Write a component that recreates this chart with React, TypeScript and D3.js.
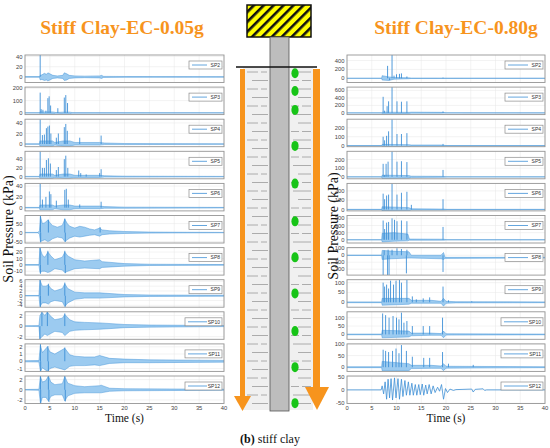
import * as d3 from 'd3';

type Env = [number, number, number][];
type Pt = [number, number][];

const spNames = ['SP2', 'SP3', 'SP4', 'SP5', 'SP6', 'SP7', 'SP8', 'SP9', 'SP10', 'SP11', 'SP12'];
const timeTicks = [0, 5, 10, 15, 20, 25, 30, 35, 40];

// ---- EC-0.05g ----
const lowDomains: [number, number][] = [
  [-11, 43], [-14, 210], [-5, 47], [-5, 58], [-6, 45], [-58, 95],
  [-16, 27], [-4.8, 6.7], [-2.5, 2.7], [-1.4, 2.4], [-2.7, 2.7],
];
const lowTicks = [
  [0, 20, 40], [0, 100, 200], [0, 20, 40], [0, 20, 40], [0, 20, 40], [-50, 0, 50],
  [-10, 0, 10, 20], [-4, -2, 0, 2, 4, 6], [-2, 0, 2], [-1, 0, 1, 2], [-2, 0, 2],
];

const lowSP2Env: Env = [[0, 0.6, -0.6], [2.9, 0.6, -0.6], [3.05, 3, -6], [3.4, 4, -5], [3.9, 7, -7], [4.3, 5, -6], [4.6, 8, -8], [5.0, 6, -6], [5.6, 3, -3], [6.5, 2, -2], [7.6, 3, -3], [7.9, 8, -7], [8.4, 6, -6], [8.9, 3, -3], [10, 2, -2], [12, 1.5, -1.5], [15, 2, -2], [15.4, 3, -3], [15.8, 1, -1], [20, 0.8, -0.8], [40, 0.5, -0.5]];
const lowSP2Spikes: Pt = [[3.05, 45]];

const lowSP3Env: Env = [[0, 1, -1], [2.9, 1, -1], [3.0, 8, -8], [5.6, 8, -8], [6.2, 3, -3], [7.7, 6, -6], [9, 6, -6], [9.6, 2, -2], [40, 1, -1]];
const lowSP3Spikes: Pt = [[3.05, 165], [3.25, 30], [3.6, 25], [4.2, 18], [4.6, 120], [4.85, 135], [5.15, 60], [6.6, 38], [7.9, 125], [8.2, 145], [8.55, 80]];

const lowSP4Env: Env = [[0, 0.5, -0.5], [2.9, 0.5, -0.5], [3.0, 6, -4], [5.5, 6, -4], [6, 3, -2], [7.7, 6, -4], [9, 6, -4], [10, 3, -2], [15, 3, -2], [16, 2, -1], [20, 1, -1], [40, 0.5, -0.5]];
const lowSP4Spikes: Pt = [[3.05, 47], [3.5, 17], [3.9, 18], [4.3, 30], [4.6, 33], [4.9, 35], [5.2, 20], [6.3, 12], [6.7, 20], [7.9, 32], [8.2, 38], [8.5, 25], [11.0, 12], [15.3, 16]];

const lowSP5Env: Env = [[0, 0.5, -0.5], [2.9, 0.5, -0.5], [3.0, 6, -4], [5.5, 6, -4], [6, 3, -2], [7.7, 6, -4], [9, 6, -4], [10, 3, -2], [15, 3, -2], [16, 2, -1], [20, 1, -1], [40, 0.5, -0.5]];
const lowSP5Spikes: Pt = [[3.05, 58], [3.5, 20], [3.9, 20], [4.3, 38], [4.7, 42], [5.1, 30], [6.3, 15], [6.7, 22], [7.9, 40], [8.2, 48], [8.6, 20], [10.8, 14], [11.2, 8], [12.3, 5], [15.0, 8], [15.3, 17]];

const lowSP6Env: Env = [[0, 0.5, -0.5], [2.9, 0.5, -0.5], [3.0, 5, -4], [5.5, 5, -4], [6, 3, -2], [7.7, 5, -4], [9, 5, -4], [10, 3, -2], [15, 3, -2], [16, 2, -1], [20, 1, -1], [40, 0.5, -0.5]];
const lowSP6Spikes: Pt = [[3.05, 45], [3.5, 15], [4.2, 20], [4.9, 30], [5.2, 25], [6.3, 13], [8.0, 33], [8.3, 35], [8.7, 15], [11.0, 6], [15.3, 11]];

const lowSP7Env: Env = [[0, 1, -1], [2.6, 1, -1], [2.9, 10, -10], [3.1, 90, -50], [3.5, 50, -45], [4.0, 55, -40], [4.6, 70, -50], [5.0, 55, -45], [5.5, 40, -35], [6.5, 30, -25], [7.5, 40, -30], [8.0, 75, -50], [8.5, 50, -40], [9.0, 35, -30], [10, 25, -20], [11, 35, -25], [12, 30, -20], [13, 20, -15], [14, 15, -12], [15, 25, -20], [15.5, 15, -12], [17, 10, -8], [20, 6, -5], [25, 3, -3], [30, 2, -2], [40, 1, -1]];
const lowSP8Env: Env = [[0, 0.5, -0.5], [2.8, 0.5, -0.5], [3.0, 26, -12], [3.5, 15, -10], [4.0, 12, -10], [4.6, 20, -12], [5.2, 14, -10], [6, 8, -6], [7.5, 12, -8], [8.0, 20, -12], [8.6, 14, -10], [10, 8, -6], [12, 6, -5], [15, 8, -6], [15.5, 5, -4], [20, 2, -2], [25, 1, -1], [40, 0.5, -0.5]];
const lowSP9Env: Env = [[0, 0.1, -0.1], [2.8, 0.1, -0.1], [3.0, 6.5, -4.5], [3.5, 4, -3], [4.2, 4, -3], [4.7, 4.5, -3.5], [5.2, 3, -2.5], [6, 2, -2], [7.5, 3, -2.5], [8.0, 5, -4.5], [8.6, 3, -3], [10, 1.5, -1.5], [12, 1.2, -1], [15, 1.2, -1], [20, 0.5, -0.5], [25, 0.3, -0.3], [40, 0.2, -0.2]];
const lowSP10Env: Env = [[0, 0.05, -0.05], [2.8, 0.1, -0.1], [3.0, 2.0, -2.4], [3.4, 2.6, -2.0], [4.0, 2, -1.5], [4.5, 2.7, -1.8], [5.0, 2, -1.5], [6, 1.2, -1], [7.5, 1.5, -1.2], [8.0, 2.2, -1.8], [9, 1.2, -1], [10, 0.8, -0.8], [12, 0.7, -0.7], [15, 0.6, -0.6], [20, 0.3, -0.3], [25, 0.2, -0.2], [40, 0.1, -0.1]];
const lowSP11Env: Env = [[0, 0.08, -0.08], [2.8, 0.1, -0.1], [3.1, 2.2, -1.4], [3.5, 1.2, -0.9], [4.5, 2.0, -1.4], [5.0, 1.3, -1.0], [6, 1, -0.8], [8.0, 1.8, -1.2], [9, 0.9, -0.7], [10, 0.7, -0.6], [12, 0.6, -0.6], [14, 0.6, -0.5], [15, 0.8, -0.6], [17, 0.4, -0.3], [20, 0.3, -0.2], [25, 0.2, -0.2], [40, 0.12, -0.12]];
const lowSP12Env: Env = [[0, 0.05, -0.05], [2.8, 0.1, -0.1], [3.1, 2.6, -2.7], [3.5, 1.5, -1.5], [4.2, 1.8, -1.5], [4.7, 2.7, -2.2], [5.2, 1.5, -1.3], [6, 1, -1], [7.5, 1.2, -1], [8.0, 2.6, -2.2], [8.6, 1.3, -1.2], [10, 0.8, -0.7], [12, 0.6, -0.6], [15, 0.8, -0.6], [15.3, 0.9, -0.6], [17, 0.3, -0.3], [20, 0.2, -0.2], [40, 0.1, -0.1]];

// strongest single excursions inside the dense records
const lowSP7Spikes: Pt = [[3.1, 95], [3.15, -55], [4.7, 72], [8.0, 78], [8.1, -52], [15.1, 30]];
const lowSP8Spikes: Pt = [[3.05, 27], [3.1, -14], [4.6, 22], [8.0, 22], [8.1, -13]];
const lowSP9Spikes: Pt = [[3.05, 6.7], [3.1, -4.8], [4.7, 5], [8.0, 5.5], [8.1, -4.6]];
const lowSP10Spikes: Pt = [[3.0, -2.5], [3.4, 2.7], [4.5, 2.7], [8.0, 2.4]];
const lowSP11Spikes: Pt = [[3.1, 2.4], [3.15, -1.4], [4.6, 2.1], [4.7, -1.4], [8.0, 1.9]];
const lowSP12Spikes: Pt = [[3.1, 2.7], [3.15, -2.7], [4.7, 2.7], [4.8, -2.4], [8.0, 2.7], [8.1, -2.3]];

const lowEnvs = [lowSP2Env, lowSP3Env, lowSP4Env, lowSP5Env, lowSP6Env, lowSP7Env, lowSP8Env, lowSP9Env, lowSP10Env, lowSP11Env, lowSP12Env];
const lowSpikes: Pt[] = [lowSP2Spikes, lowSP3Spikes, lowSP4Spikes, lowSP5Spikes, lowSP6Spikes, lowSP7Spikes, lowSP8Spikes, lowSP9Spikes, lowSP10Spikes, lowSP11Spikes, lowSP12Spikes];
const lowLines: Pt[] = [[], [], [], [], [], [], [], [], [], [], []];

// ---- EC-0.80g ----
const highDomains: [number, number][] = [
  [-95, 525], [-45, 690], [-11, 295], [-22, 294], [-15, 280], [-45, 340],
  [-285, 110], [-25, 115], [-29, 135], [-18, 100], [-51, 52],
];
const highTicks = [
  [0, 200, 400], [0, 200, 400, 600], [0, 100, 200], [0, 100, 200], [0, 100, 200], [0, 100, 200, 300],
  [-200, -100, 0, 100], [0, 50, 100], [0, 50, 100], [0, 50, 100], [-50, 0, 50],
];

const highSP2Env: Env = [[0, 3, -3], [7, 3, -3], [7.1, 60, -40], [8.5, 30, -50], [9.5, 20, -20], [12.5, 10, -10], [13, 4, -4], [40, 3, -3]];
const highSP2Spikes: Pt = [[8.2, 280], [8.6, -40], [9.1, 525], [9.5, 60], [10.0, 90], [10.6, 100], [11.0, 110], [12.1, 40], [19.4, 15]];
const highSP3Env: Env = [[0, 4, -4], [7, 4, -4], [7.1, 20, -25], [12.5, 15, -15], [13, 20, -6], [19, 15, -6], [19.6, 10, -5], [20, 5, -5], [40, 4, -4]];
const highSP3Spikes: Pt = [[7.3, 430], [7.6, 60], [8.1, 180], [8.4, 310], [9.1, 690], [10.1, 310], [11.0, 300], [12.1, 310], [19.4, 40]];
const highSP4Env: Env = [[0, 2, -2], [7, 2, -2], [7.1, 15, -10], [12.5, 12, -10], [13, 8, -4], [19, 8, -4], [19.6, 5, -4], [20, 2, -2], [40, 2, -2]];
const highSP4Spikes: Pt = [[7.3, 100], [7.6, 60], [8.0, 110], [8.4, 160], [9.1, 295], [10.1, 130], [11.0, 130], [12.1, 140], [19.4, 20]];
const highSP5Env: Env = [[0, 2, -2], [7, 2, -2], [7.1, 20, -20], [12.5, 15, -15], [13, 8, -6], [19, 6, -5], [19.6, 5, -5], [20, 2, -2], [40, 2, -2]];
const highSP5Spikes: Pt = [[7.3, 150], [7.6, 20], [7.9, 150], [8.3, 175], [9.1, 294], [10.1, 175], [11.0, 180], [12.1, 170], [19.4, 80]];
const highSP6Env: Env = [[0, 2, -2], [7, 2, -2], [7.1, 30, -15], [12.5, 20, -12], [13, 8, -5], [19, 5, -5], [19.6, 5, -5], [20, 2, -2], [40, 2, -2]];
const highSP6Spikes: Pt = [[7.3, 170], [7.6, 110], [8.0, 150], [8.4, 160], [9.1, 280], [10.1, 160], [11.0, 180], [12.1, 190], [13.0, 50], [19.4, 110]];
const highSP7Env: Env = [[0, 2, -2], [7, 2, -2], [7.1, 90, -30], [9.5, 100, -20], [12.3, 80, -15], [12.6, 10, -5], [19, 8, -5], [19.6, 8, -5], [20, 2, -2], [40, 2, -2]];
const highSP7Spikes: Pt = [[7.3, 270], [7.6, 150], [8.0, 240], [8.4, 250], [9.1, 300], [9.6, 280], [10.1, 260], [11.0, 270], [12.1, 260], [19.4, 180]];
const highSP8Env: Env = [[0, 3, -3], [7, 3, -3], [7.1, 70, -60], [9, 60, -50], [12.5, 50, -40], [13, 0, -40], [19, 0, -50], [19.5, 40, -60], [19.8, -30, -45], [30, -30, -42], [40, -28, -40]];
const highSP8Spikes: Pt = [[7.3, -285], [7.5, 70], [8.2, -285], [8.3, 80], [8.5, -285], [9.1, 80], [10.1, 100], [11.0, 90], [12.0, -260], [12.1, 80], [19.4, -240]];
const highSP9Env: Env = [[0, 2, -2], [7, 2, -2], [7.1, 20, -15], [12.5, 20, -10], [13, 10, -5], [17, 10, -5], [19, 5, -5], [19.5, 20, -20], [20, 5, -5], [22, 3, -3], [40, 2, -2]];
const highSP9Spikes: Pt = [[7.3, 100], [7.6, 80], [8.0, 90], [8.4, 70], [8.8, 110], [9.4, 90], [9.9, 110], [10.6, 115], [11.0, 100], [12.1, 115], [13.2, 30], [14.0, 15], [15.4, 20], [16.7, 25], [19.4, 80], [20.5, 10], [25.2, 5]];
const highSP10Env: Env = [[0, 2, -2], [7, 2, -2], [7.1, 25, -20], [12.5, 20, -15], [13, 8, -8], [17, 8, -5], [19, 5, -5], [19.5, 20, -20], [20, 4, -4], [40, 2, -2]];
const highSP10Spikes: Pt = [[7.2, 125], [7.8, 115], [8.5, 100], [9.3, 110], [10.0, 100], [10.5, 90], [11.0, 130], [11.5, 70], [12.1, 80], [13.2, 50], [15.4, 50], [16.7, 50], [19.3, 100]];
const highSP11Env: Env = [[0, 2, -2], [7, 2, -2], [7.1, 25, -15], [12.5, 15, -15], [13, 8, -6], [17, 8, -5], [19, 5, -5], [19.5, 15, -15], [20, 4, -4], [40, 2, -2]];
const highSP11Spikes: Pt = [[7.3, 75], [7.8, 70], [8.4, 65], [9.2, 70], [9.9, 80], [10.5, 60], [11.0, 95], [12.0, 70], [13.2, 45], [15.5, 40], [16.7, 40], [19.3, 65], [20.5, 15], [25.5, 10]];
const highSP12Line: Pt = [[0, 0], [6.9, 0], [7.1, 15], [7.4, -15], [7.7, 30], [8.0, -35], [8.3, 40], [8.6, -30], [8.9, 42], [9.2, -38], [9.6, 45], [9.9, -30], [10.3, 42], [10.6, -35], [11.0, 40], [11.3, -25], [11.7, 35], [12.0, -20], [12.4, 30], [12.7, -20], [13.1, 25], [13.4, -20], [13.8, 20], [14.1, -20], [14.5, 20], [14.8, -18], [15.2, 22], [15.5, -20], [15.9, 18], [16.2, -15], [16.6, 20], [17.0, -15], [17.4, 15], [17.8, -10], [18.3, 10], [18.7, -5], [19.1, 20], [19.5, -35], [19.9, 5], [20.3, -10], [20.8, 3], [21.5, -2], [22, 1], [25.2, 3], [25.5, -8], [25.9, 2], [27.5, 4], [27.8, -2], [28.2, 0], [40, 0]];

const highEnvs = [highSP2Env, highSP3Env, highSP4Env, highSP5Env, highSP6Env, highSP7Env, highSP8Env, highSP9Env, highSP10Env, highSP11Env, []];
const highSpikes: Pt[] = [highSP2Spikes, highSP3Spikes, highSP4Spikes, highSP5Spikes, highSP6Spikes, highSP7Spikes, highSP8Spikes, highSP9Spikes, highSP10Spikes, highSP11Spikes, []];
const highLines: Pt[] = [[], [], [], [], [], [], [], [], [], [], highSP12Line];

// sensor depths along the pile, 0 = ground surface, 100 = pile tip
const sensorDepths = [1.8, 7, 12.5, 23, 34, 45, 55.5, 66, 77, 87.5, 98];

const W = 550;
const H = 448;
const ROW_TOP = 55;
const ROW_STEP = 32.1;
const ROW_H = 27.5;
const BLUE = '#3d8fd6';
const ORANGE = '#f7941d';
const SANS = 'Liberation Sans, Arial, sans-serif';
const SERIF = 'Liberation Serif, Times New Roman, serif';

interface PanelProps {
  id: string;
  x0: number;
  x1: number;
  domains: [number, number][];
  ticks: number[][];
  envs: Env[];
  spikes: Pt[];
  lines: Pt[];
  legendW: number;
}

function Panel({ id, x0, x1, domains, ticks, envs, spikes, lines, legendW }: PanelProps) {
  const x = d3.scaleLinear().domain([0, 40]).range([x0, x1]);
  return (
    <g>
      {spNames.map((name, i) => {
        const top = ROW_TOP + i * ROW_STEP;
        const bottom = top + ROW_H;
        const y = d3.scaleLinear().domain(domains[i]).range([bottom, top]);
        const area = d3
          .area<[number, number, number]>()
          .x((d) => x(d[0]))
          .y0((d) => y(d[2]))
          .y1((d) => y(d[1]));
        const line = d3
          .line<[number, number]>()
          .x((d) => x(d[0]))
          .y((d) => y(d[1]));
        const clip = `${id}-clip-${i}`;
        const lw = legendW + (name.length > 3 ? 4 : 0);
        const lx = x1 - 2 - lw;
        const ly = top + 6;
        return (
          <g key={name}>
            <defs>
              <clipPath id={clip}>
                <rect x={x0} y={top} width={x1 - x0} height={ROW_H} />
              </clipPath>
            </defs>
            <rect x={x0} y={top} width={x1 - x0} height={ROW_H} fill="#fff" />
            {timeTicks.map((t) => (
              <line key={t} x1={x(t)} x2={x(t)} y1={top} y2={bottom} stroke="#e6e6e6" strokeWidth={0.5} />
            ))}
            {ticks[i].map((v) => (
              <line key={v} x1={x0} x2={x1} y1={y(v)} y2={y(v)} stroke="#e6e6e6" strokeWidth={0.5} />
            ))}
            <g clipPath={`url(#${clip})`}>
              {envs[i].length > 0 && (
                <path d={area(envs[i]) ?? ''} fill="#9ccbf0" stroke={BLUE} strokeWidth={0.45} />
              )}
              {spikes[i].map(([t, v], k) => (
                <line key={k} x1={x(t)} x2={x(t)} y1={y(0)} y2={y(v)} stroke={BLUE} strokeWidth={0.9} />
              ))}
              {lines[i].length > 0 && (
                <path d={line(lines[i]) ?? ''} fill="none" stroke={BLUE} strokeWidth={0.8} />
              )}
            </g>
            <rect x={x0} y={top} width={x1 - x0} height={ROW_H} fill="none" stroke="#959595" strokeWidth={0.9} />
            {ticks[i].map((v) => (
              <text
                key={v}
                x={x0 - 2.5}
                y={y(v)}
                dy="0.35em"
                textAnchor="end"
                fontFamily={SANS}
                fontSize={5.8}
                fill="#444"
              >
                {v}
              </text>
            ))}
            <rect x={lx} y={ly} width={lw} height={8} fill="#fff" stroke="#8c8c8c" strokeWidth={0.7} />
            <line x1={lx + 3} x2={lx + lw - 15} y1={ly + 4} y2={ly + 4} stroke={BLUE} strokeWidth={0.8} />
            <text x={lx + lw - 2} y={ly + 4} dy="0.35em" textAnchor="end" fontFamily={SANS} fontSize={5} fill="#333">
              {name}
            </text>
          </g>
        );
      })}
      {timeTicks.map((t) => (
        <text
          key={t}
          x={x(t)}
          y={ROW_TOP + 10 * ROW_STEP + ROW_H + 4}
          dy="0.35em"
          textAnchor="middle"
          fontFamily={SANS}
          fontSize={5.8}
          fill="#444"
        >
          {t}
        </text>
      ))}
      <text
        x={(x0 + x1) / 2}
        y={421.5}
        textAnchor="middle"
        fontFamily={SERIF}
        fontSize={11.5}
        fill="#111"
      >
        Time (s)
      </text>
    </g>
  );
}

function PileSketch() {
  const depth = d3.scaleLinear().domain([0, 100]).range([67, 410]);
  const rows = d3.range(0, 40);
  return (
    <g>
      <defs>
        <pattern id="hatch" width={7} height={7} patternUnits="userSpaceOnUse" patternTransform="rotate(45)">
          <rect width={7} height={7} fill="#ffff00" />
          <rect width={2.6} height={7} fill="#111" />
        </pattern>
      </defs>
      <rect x={243} y={67} width={70} height={343} fill="#f0f0f0" />
      {rows.map((r) => {
        const yy = 72 + r * 8.5;
        if (yy > 406) return null;
        const left = r % 2 === 0 ? [[247, 258], [261, 267]] : [[252, 268]];
        const right = r % 3 === 0 ? [[298, 311]] : r % 3 === 1 ? [[291, 299], [302, 311]] : [[293, 311]];
        return (
          <g key={r}>
            {[...left, ...right].map(([a, b], k) => (
              <line key={k} x1={a} x2={b} y1={yy} y2={yy} stroke="#9a9a9a" strokeWidth={0.8} />
            ))}
          </g>
        );
      })}
      <rect x={247} y={5} width={64} height={32} fill="url(#hatch)" stroke="#111" strokeWidth={1.5} />
      <rect x={270} y={37} width={19} height={374} fill="#bdbdbd" stroke="#555" strokeWidth={0.8} />
      <line x1={236} x2={317} y1={67} y2={67} stroke="#111" strokeWidth={1.4} />
      {sensorDepths.map((d, i) => (
        <ellipse key={i} cx={295} cy={depth(d)} rx={3.6} ry={5} fill="#17c417" />
      ))}
      <rect x={240} y={69} width={5} height={328} fill={ORANGE} />
      <path d="M234,396 L251,396 L242.5,411 Z" fill={ORANGE} />
      <rect x={313} y={69} width={7} height={319} fill={ORANGE} />
      <path d="M305,387 L329,387 L317,410 Z" fill={ORANGE} />
    </g>
  );
}

export default function App() {
  return (
    <svg
      width={W}
      height={H}
      viewBox={`0 0 ${W} ${H}`}
      style={{ display: 'block', position: 'absolute', left: 0, top: 0 }}
    >
      <rect width={W} height={H} fill="#fff" />
      <text x={122} y={34} textAnchor="middle" fontFamily={SERIF} fontWeight="bold" fontSize={19.5} fill={ORANGE}>
        Stiff Clay-EC-0.05g
      </text>
      <text x={456} y={34} textAnchor="middle" fontFamily={SERIF} fontWeight="bold" fontSize={19.5} fill={ORANGE}>
        Stiff Clay-EC-0.80g
      </text>
      <text
        transform="translate(13,229) rotate(-90)"
        textAnchor="middle"
        fontFamily={SERIF}
        fontSize={14}
        fill="#111"
      >
        Soil Pressure (kPa)
      </text>
      <text
        transform="translate(338,226) rotate(-90)"
        textAnchor="middle"
        fontFamily={SERIF}
        fontSize={14}
        fill="#111"
      >
        Soil Pressure (kPa)
      </text>
      <Panel
        id="low"
        x0={25}
        x1={224}
        domains={lowDomains}
        ticks={lowTicks}
        envs={lowEnvs}
        spikes={lowSpikes}
        lines={lowLines}
        legendW={33}
      />
      <PileSketch />
      <Panel
        id="high"
        x0={347}
        x1={545}
        domains={highDomains}
        ticks={highTicks}
        envs={highEnvs}
        spikes={highSpikes}
        lines={highLines}
        legendW={38}
      />
      <text x={270} y={443} textAnchor="middle" fontFamily={SERIF} fontSize={12} fill="#111">
        <tspan fontWeight="bold">(b)</tspan> stiff clay
      </text>
    </svg>
  );
}
